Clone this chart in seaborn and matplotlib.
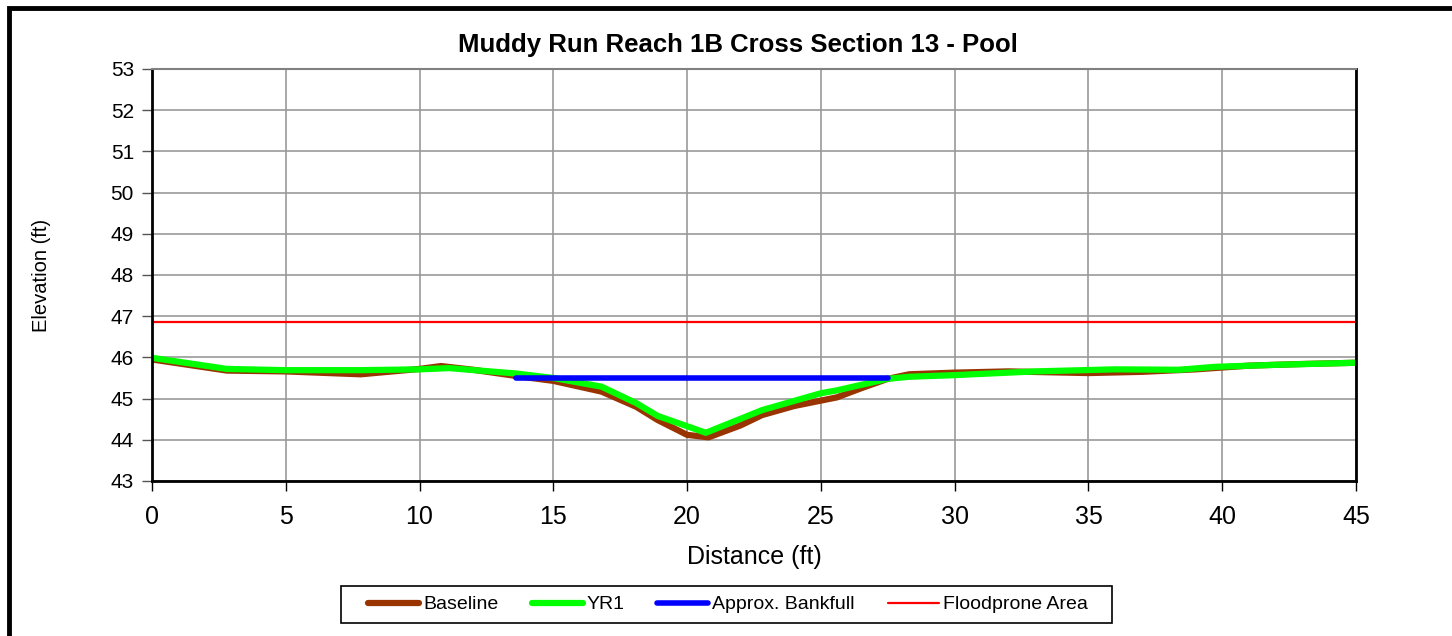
import matplotlib
matplotlib.use("Agg")
import matplotlib.pyplot as plt
from matplotlib.patches import Rectangle
import seaborn as sns
import pandas as pd

# Surveyed cross-section profiles (station ft, elevation ft)
baseline_x = [0, 2.8, 5, 7.8, 10, 10.8, 12, 13.6, 15, 16.8, 18.1, 18.9, 20, 20.8,
              22, 22.8, 24, 25.6, 26.5, 27.5, 28.3, 30, 32, 35, 37, 39, 41, 43, 45]
baseline_y = [45.95, 45.68, 45.66, 45.59, 45.72, 45.79, 45.70, 45.55, 45.43, 45.17,
              44.80, 44.48, 44.12, 44.06, 44.35, 44.60, 44.82, 45.03, 45.25, 45.48,
              45.59, 45.63, 45.66, 45.62, 45.65, 45.71, 45.80, 45.84, 45.87]

yr1_x = [0, 2.8, 5, 7.8, 10, 11.1, 13.6, 15, 16.8, 18.1, 18.9, 20.7, 22.8, 25,
         25.6, 27.5, 28.3, 30, 33, 36, 38.4, 39.7, 42, 45]
yr1_y = [45.99, 45.72, 45.69, 45.69, 45.71, 45.74, 45.61, 45.50, 45.29, 44.89,
         44.58, 44.17, 44.72, 45.13, 45.20, 45.48, 45.53, 45.57, 45.66, 45.71,
         45.70, 45.77, 45.82, 45.87]

bankfull_x = [13.6, 27.5]
bankfull_y = [45.5, 45.5]

floodprone_x = [0, 45]
floodprone_y = [46.87, 46.87]

x_ticks = [0, 5, 10, 15, 20, 25, 30, 35, 40, 45]
y_ticks = [43, 44, 45, 46, 47, 48, 49, 50, 51, 52, 53]

sns.set_theme(style="white")
plt.rcParams["font.family"] = ["Liberation Sans", "DejaVu Sans"]
plt.rcParams["text.color"] = "black"
plt.rcParams["axes.labelcolor"] = "black"
plt.rcParams["xtick.color"] = "black"
plt.rcParams["ytick.color"] = "black"

W, H = 1452, 636
fig = plt.figure(figsize=(W / 100, H / 100), dpi=100)
ax = fig.add_axes([152 / W, 1 - 481 / H, (1356 - 152) / W, (481 - 69) / H])

# outer chart frame (top and left edges visible)
fig.patches.append(Rectangle((8.5 / W, -0.1), 1.2, 1 - 7.5 / H + 0.1,
                             transform=fig.transFigure, fill=False,
                             edgecolor="black", linewidth=3.5, zorder=0))

series = [
    ("Baseline", baseline_x, baseline_y, "#993300", 4.5),
    ("YR1", yr1_x, yr1_y, "#00FF00", 4.5),
    ("Approx. Bankfull", bankfull_x, bankfull_y, "#0000FF", 4.0),
    ("Floodprone Area", floodprone_x, floodprone_y, "#FF0000", 1.6),
]
for name, xs, ys, color, lw in series:
    df = pd.DataFrame({"Distance": xs, "Elevation": ys})
    sns.lineplot(data=df, x="Distance", y="Elevation", ax=ax, color=color,
                 linewidth=lw, label=name, sort=False, estimator=None,
                 solid_capstyle="round", solid_joinstyle="round")

ax.set_xlim(0, 45)
ax.set_ylim(43, 53)
ax.set_xticks(x_ticks)
ax.set_yticks(y_ticks)
ax.grid(True, color="#999999", linewidth=1.2)
ax.set_axisbelow(True)

for side in ["left", "right", "bottom"]:
    ax.spines[side].set_color("black")
    ax.spines[side].set_linewidth(2)
ax.spines["top"].set_color("#808080")
ax.spines["top"].set_linewidth(1.5)

ax.tick_params(axis="x", labelsize=18, length=7, width=1, color="black",
               direction="out", bottom=True, pad=10, labelcolor="black")
ax.tick_params(axis="y", labelsize=15, length=7, width=1, color="#555555",
               direction="out", left=True, pad=6, labelcolor="black")

fig.text(737.5 / W, 1 - 45 / H, "Muddy Run Reach 1B Cross Section 13 - Pool",
         fontsize=18.5, fontweight="bold", color="black",
         ha="center", va="center")
ax.set_xlabel("Distance (ft)", fontsize=18, labelpad=12, color="black")
ax.set_ylabel("Elevation (ft)", fontsize=14.5, labelpad=43, color="black")

# legend box with wide side margins, drawn beneath the legend entries
ax.add_patch(Rectangle((341 / W, 1 - 623 / H), (1112 - 341) / W, 37 / H,
                       transform=fig.transFigure, fill=True,
                       facecolor="white", edgecolor="black",
                       linewidth=1.2, zorder=4, clip_on=False))
leg = ax.legend(loc="center", bbox_to_anchor=(728 / W, 1 - 604.5 / H),
                bbox_transform=fig.transFigure, ncol=4, fontsize=14,
                frameon=False, handlelength=2.62,
                handletextpad=0.2, columnspacing=1.7, borderpad=0.2)
leg.set_zorder(6)
for t in leg.get_texts():
    t.set_color("black")

fig.savefig("out.png", dpi=100, facecolor="white")
